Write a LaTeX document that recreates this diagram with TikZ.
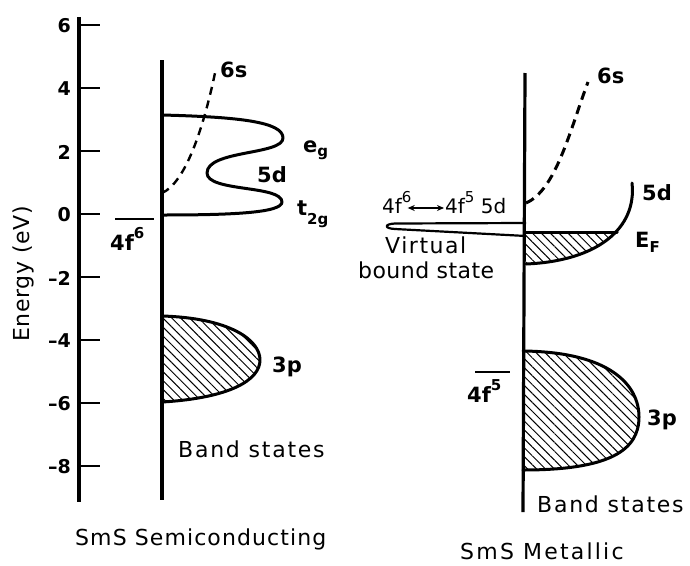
\documentclass[tikz,border=0pt]{standalone}
\usepackage{fontspec}
\setmainfont{DejaVu Sans}
\usetikzlibrary{patterns.meta,arrows.meta,calc}
\newcommand\lsp[2]{{\addfontfeature{LetterSpace=#1}#2}}
\newcommand\fsz[1]{\fontsize{#1}{#1}\selectfont}
\newcommand\upi[2]{\raisebox{#1}{\fsz{15}#2}}
\newcommand\dni[2]{\raisebox{-#1}{\fsz{15}#2}}
\begin{document}
\begin{tikzpicture}[x=1pt,y=-1pt,
  lbl/.style={inner sep=0pt, anchor=base west, font=\fsz{22}},
  blbl/.style={inner sep=0pt, anchor=base west, font=\fsz{21}\bfseries},
  ticklbl/.style={inner sep=0pt, anchor=east, font=\fsz{19}\bfseries},
  tickline/.style={line width=2pt},
  axisline/.style={line width=3.2pt},
  band/.style={line width=3pt, line join=round, line cap=round},
  thinband/.style={line width=2.2pt, line join=round},
  hatch/.style={pattern={Lines[angle=-45,distance=6.3pt,line width=1pt]}},
  dashA/.style={line width=2.4pt, dash pattern=on 8pt off 6pt},
  dashB/.style={line width=3pt, dash pattern=on 9pt off 6pt}]
\useasboundingbox (0,0) rectangle (690,565);

% energy axis
\coordinate (axtop) at (79,17);
\coordinate (axbot) at (79,502);
\draw[axisline] (axtop) -- (axbot);
\foreach \v/\t/\n in {6/6/a,4/4/b,2/2/c,0/0/d,-2/–2/e,-4/–4/f,-6/–6/g,-8/–8/h}{
  \draw[tickline] (79,214-31.5*\v) -- (100,214-31.5*\v);
  \node[ticklbl] (tick\n) at (71,215-31.5*\v) {\t};
}
\node[inner sep=0pt, rotate=90, font=\fsz{22}] (elab) at (23,274) {\lsp{3}{Energy (eV)}};

% ---------- semiconducting ----------
\coordinate (Ltop) at (162,60);
\coordinate (Lbot) at (162,500);
\draw[axisline] (Ltop) -- (Lbot);
% 5d band
\draw[band] (162,115) .. controls (240,117) and (283,122) .. (283,138)
  .. controls (283,155) and (207,150) .. (207,173)
  .. controls (207,192) and (282,185) .. (282,202)
  .. controls (282,213) and (230,215) .. (162,215);
% 6s
\draw[dashA] (162,193) .. controls (185,183) and (203,130) .. (215,73);
% 4f6 level
\coordinate (Lf1) at (115,219);
\coordinate (Lf2) at (154,219);
\draw[thinband] (Lf1) -- (Lf2);
% 3p band
\fill[hatch] (162,316) .. controls (230,318) and (260,340) .. (260,360)
  .. controls (260,380) and (230,398) .. (162,402) -- cycle;
\draw[band] (162,316) .. controls (230,318) and (260,340) .. (260,360)
  .. controls (260,380) and (230,398) .. (162,402);

\node[blbl] (Ls) at (220,77) {6s};
\node[blbl] (Leg) at (303,152) {e\dni{4pt}{g}};
\node[blbl] (L5d) at (257,182) {5d};
\node[blbl] (Lt2g) at (297,215) {t\dni{9pt}{2g}};
\node[blbl] (Lf6) at (110,250) {4f\upi{12pt}{6}};
\node[blbl] (L3p) at (272,372) {3p};
\node[lbl] (Lband) at (178,457) {\lsp{8}{Band states}};
\node[lbl] (Ltitle) at (75,545) {\lsp{5}{SmS Semiconducting}};

% ---------- metallic ----------
\coordinate (Rtop) at (525,73);
\coordinate (Rbot) at (523,512);
\draw[axisline] (Rtop) -- (Rbot);
% 6s
\draw[dashB] (526,203) .. controls (556,190) and (570,130) .. (588,82);
% 5d with filled part below EF
\begin{scope}
  \clip (526,232) rectangle (645,275);
  \fill[hatch] (632,183) .. controls (637,228) and (598,261) .. (526,264) -- (526,183) -- cycle;
\end{scope}
\draw[band] (632,183) .. controls (637,228) and (598,261) .. (526,264);
\coordinate (EFa) at (526,232);
\coordinate (EFb) at (617,232);
\draw[band] (EFa) -- (EFb);
% virtual bound state
\draw[thinband] (526,223) -- (395,223.5) .. controls (384,224) and (384,228.5) .. (395,229) -- (526,236);
% 4f5 level
\coordinate (Rf1) at (475,372);
\coordinate (Rf2) at (510,372);
\draw[thinband] (Rf1) -- (Rf2);
% 3p band
\fill[hatch] (523,351) .. controls (610,352) and (639,385) .. (639,417)
  .. controls (639,450) and (610,470) .. (523,470) -- cycle;
\draw[band] (523,351) .. controls (610,352) and (639,385) .. (639,417)
  .. controls (639,450) and (610,470) .. (523,470);

\node[blbl] (Rs) at (597,83) {6s};
\node[blbl] (R5d) at (642,200) {5d};
\node[blbl] (REF) at (635,247) {E\dni{5pt}{F}};
\node[lbl, font=\fsz{20}] (Rf6) at (382,213) {4f\upi{11pt}{6}};
\node[lbl, font=\fsz{20}] (Rf5) at (445,213) {4f\upi{11pt}{5}\ 5d};
\draw[{Stealth[length=7pt,width=6pt]}-{Stealth[length=7pt,width=6pt]}, line width=1.6pt]
  ($(Rf6.base east)+(-4,-5)$) -- ($(Rf5.base west)+(-1,-5)$);
\node[lbl] (Rvirt) at (385,253) {\lsp{7}{Virtual}};
\node[lbl] (Rbound) at (358,278) {\lsp{2}{bound state}};
\node[blbl] (R4f5) at (467,402) {4f\upi{12pt}{5}};
\node[blbl] (R3p) at (647,425) {3p};
\node[lbl] (Rband) at (537,512) {\lsp{8}{Band states}};
\node[lbl] (Rtitle) at (460,559) {\lsp{10}{SmS Metallic}};
\end{tikzpicture}
\end{document}
